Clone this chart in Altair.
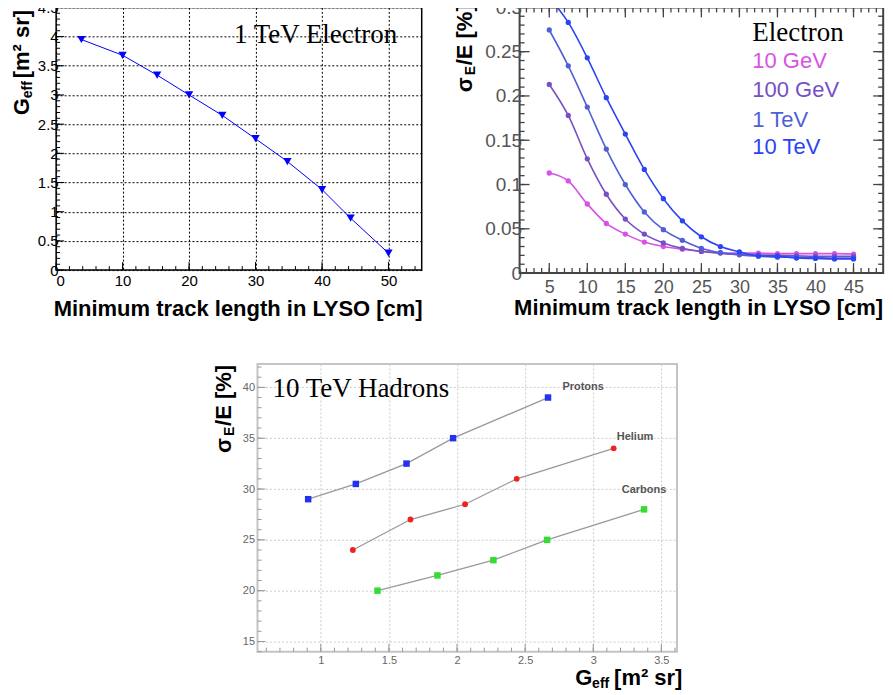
import altair as alt
import pandas as pd

SANS = "Liberation Sans"
SERIF = "Liberation Serif"

# ---------------- Panel 1: 1 TeV electron, Geff vs min track length
p1_len = [3.8, 10, 15.2, 20, 25, 30, 34.8, 40, 44.3, 50]
p1_geff = [3.95, 3.68, 3.34, 3.00, 2.65, 2.25, 1.86, 1.38, 0.89, 0.29]

# ---------------- Panel 2: electron energy resolution vs min track length
p2_len = [5, 7.5, 10, 12.5, 15, 17.5, 20, 22.5, 25, 27.5, 30, 32.5, 35, 37.5, 40, 42.5, 45]
res_10gev = [0.113, 0.104, 0.078, 0.056, 0.044, 0.035, 0.030, 0.027, 0.0245, 0.023,
             0.0225, 0.0225, 0.022, 0.022, 0.022, 0.022, 0.0215]
res_100gev = [0.213, 0.178, 0.129, 0.089, 0.061, 0.044, 0.034, 0.028, 0.0244, 0.0225,
              0.021, 0.0205, 0.020, 0.0195, 0.019, 0.019, 0.019]
res_1tev = [0.2745, 0.234, 0.1875, 0.140, 0.100, 0.069, 0.049, 0.037, 0.028, 0.023,
            0.0206, 0.019, 0.018, 0.018, 0.0175, 0.017, 0.017]
res_10tev = [0.311, 0.283, 0.243, 0.198, 0.157, 0.117, 0.084, 0.059, 0.041, 0.030,
             0.024, 0.0195, 0.019, 0.017, 0.0165, 0.016, 0.016]
energies = ["10 GeV", "100 GeV", "1 TeV", "10 TeV"]
energy_colors = ["#d852e6", "#7650c4", "#4f5fd6", "#2a44f5"]

# ---------------- Panel 3: 10 TeV hadrons, resolution vs Geff
geff_protons = [0.907, 1.257, 1.629, 1.971, 2.668]
res_protons = [29.0, 30.5, 32.5, 35.0, 39.0]
geff_helium = [1.235, 1.658, 2.059, 2.438, 3.15]
res_helium = [24.0, 27.0, 28.5, 31.0, 34.0]
geff_carbons = [1.416, 1.856, 2.267, 2.661, 3.373]
res_carbons = [20.0, 21.5, 23.0, 25.0, 28.0]
hadron_names = ["Protons", "Helium", "Carbons"]
hadron_colors = ["#2233ee", "#ee2222", "#33dd33"]

# ---------------- tick values
p1_xmajor = [0, 10, 20, 30, 40, 50]
p1_xminor = list(range(0, 55, 2))
p1_ymajor = [0, 0.5, 1, 1.5, 2, 2.5, 3, 3.5, 4, 4.5]
p1_yminor = [round(i * 0.1, 2) for i in range(46)]

p2_xmajor = [5, 10, 15, 20, 25, 30, 35, 40, 45]
p2_xminor = list(range(2, 49))
p2_ymajor = [0, 0.05, 0.1, 0.15, 0.2, 0.25, 0.3]
p2_yminor = [round(i * 0.01, 2) for i in range(31)]

p3_xmajor = [1, 1.5, 2, 2.5, 3, 3.5]
p3_xminor = [round(0.6 + i * 0.1, 2) for i in range(31)]
p3_ymajor = [15, 20, 25, 30, 35, 40]
p3_yminor = list(range(14, 43))

W1, H1 = 366, 263
W2, H2 = 364, 266
W3, H3 = 420, 288


def txt(s, x, y, size, color="black", font=SANS, weight="normal", angle=0,
        align="left", baseline="alphabetic"):
    return alt.Chart(pd.DataFrame({"t": [s]})).mark_text(
        align=align, baseline=baseline, fontSize=size, font=font,
        fontWeight=weight, color=color, angle=angle
    ).encode(text="t:N", x=alt.value(x), y=alt.value(y))


def ticks(values, side, length, W, H, color, width, xenc=None, yenc=None):
    df = pd.DataFrame({"v": values})
    m = alt.Chart(df).mark_rule(color=color, strokeWidth=width)
    if side in ("left", "right"):
        enc = dict(y=yenc("v:Q"))
        if side == "left":
            enc.update(x=alt.value(0), x2=alt.value(length))
        else:
            enc.update(x=alt.value(W), x2=alt.value(W - length))
    else:
        enc = dict(x=xenc("v:Q"))
        if side == "bottom":
            enc.update(y=alt.value(H), y2=alt.value(H - length))
        else:
            enc.update(y=alt.value(0), y2=alt.value(length))
    return m.encode(**enc)


# ======================= Panel 1 =======================
sx1 = alt.Scale(domain=[0, 55], nice=False, zero=False)
sy1 = alt.Scale(domain=[0, 4.5], nice=False, zero=False)
ax1 = alt.Axis(values=p1_xmajor, format="d", title=None, grid=True, gridColor="black",
               gridDash=[2, 2], gridWidth=1, ticks=False, domain=False, labelFont=SANS,
               labelFontSize=15, labelColor="black", labelPadding=3)
ay1 = alt.Axis(values=p1_ymajor, format=".1~f", title=None, grid=True, gridColor="black",
               gridDash=[2, 2], gridWidth=1, ticks=False, domain=False, labelFont=SANS,
               labelFontSize=15, labelColor="black", labelPadding=-2)
X1 = lambda f: alt.X(f, scale=sx1, axis=ax1)
Y1 = lambda f: alt.Y(f, scale=sy1, axis=ay1)

df1 = pd.DataFrame({"len": p1_len, "geff": p1_geff})
line1 = alt.Chart(df1).mark_line(color="#0000ff", strokeWidth=1).encode(
    x=X1("len:Q"), y=Y1("geff:Q"))
pts1 = alt.Chart(df1).mark_point(shape="triangle-down", filled=True, color="#0000ff",
                                 size=70, opacity=1).encode(x=X1("len:Q"), y=Y1("geff:Q"))

p1 = alt.layer(
    line1, pts1,
    ticks(p1_yminor, "left", 4, W1, H1, "black", 1, yenc=Y1),
    ticks(p1_ymajor, "left", 8, W1, H1, "black", 1, yenc=Y1),
    ticks(p1_xminor, "bottom", 4, W1, H1, "black", 1, xenc=X1),
    ticks(p1_xmajor, "bottom", 8, W1, H1, "black", 1, xenc=X1),
    txt("1 TeV Electron", 178, 36, 27, font=SERIF),
    txt("Minimum track length in LYSO [cm]", W1 + 1, 309, 22, weight="bold", align="right"),
    txt("G", -27, 108, 22, weight="bold", angle=270),
    txt("eff", -24, 91, 14, weight="bold", angle=270),
    txt("[m² sr]", -27, 71, 22, weight="bold", angle=270),
).properties(width=W1, height=H1,
             view=alt.ViewBackground(stroke="black", strokeWidth=1.5, fill="white"))

# ======================= Panel 2 =======================
sx2 = alt.Scale(domain=[1.1, 48.9], nice=False, zero=False)
sy2 = alt.Scale(domain=[0, 0.3], nice=False, zero=False)
ax2 = alt.Axis(values=p2_xmajor, format="d", title=None, grid=False, ticks=False,
               domain=False, labelFont=SANS, labelFontSize=18, labelColor="#555555",
               labelPadding=5)
ay2 = alt.Axis(values=p2_ymajor, format=".2~f", title=None, grid=False, ticks=False,
               domain=False, labelFont=SANS, labelFontSize=19, labelColor="#555555",
               labelPadding=-2)
X2 = lambda f: alt.X(f, scale=sx2, axis=ax2)
Y2 = lambda f: alt.Y(f, scale=sy2, axis=ay2)

rows2 = []
for name, vals in zip(energies, [res_10gev, res_100gev, res_1tev, res_10tev]):
    for xv, yv in zip(p2_len, vals):
        rows2.append({"len": xv, "res": yv, "E": name})
df2 = pd.DataFrame(rows2)
col2 = alt.Color("E:N", scale=alt.Scale(domain=energies, range=energy_colors), legend=None)
line2 = alt.Chart(df2).mark_line(strokeWidth=1.6, clip=True, interpolate="monotone").encode(
    x=X2("len:Q"), y=Y2("res:Q"), color=col2, detail="E:N")
pts2 = alt.Chart(df2).mark_circle(size=28, opacity=1, clip=True).encode(
    x=X2("len:Q"), y=Y2("res:Q"), color=col2)

tc2 = "#444444"
p2 = alt.layer(
    line2, pts2,
    ticks(p2_yminor, "left", 5, W2, H2, tc2, 1.3, yenc=Y2),
    ticks(p2_ymajor, "left", 10, W2, H2, tc2, 1.3, yenc=Y2),
    ticks(p2_yminor, "right", 5, W2, H2, tc2, 1.3, yenc=Y2),
    ticks(p2_ymajor, "right", 10, W2, H2, tc2, 1.3, yenc=Y2),
    ticks(p2_xminor, "bottom", 5, W2, H2, tc2, 1.3, xenc=X2),
    ticks(p2_xmajor, "bottom", 10, W2, H2, tc2, 1.3, xenc=X2),
    ticks(p2_xminor, "top", 5, W2, H2, tc2, 1.3, xenc=X2),
    ticks(p2_xmajor, "top", 10, W2, H2, tc2, 1.3, xenc=X2),
    txt("Electron", 233, 34, 27, font=SERIF),
    txt(energies[0], 233, 61, 22, color=energy_colors[0]),
    txt(energies[1], 233, 90, 22, color=energy_colors[1]),
    txt(energies[2], 233, 120, 22, color=energy_colors[2]),
    txt(energies[3], 233, 147, 22, color=energy_colors[3]),
    txt("Minimum track length in LYSO [cm]", W2, 308, 22, weight="bold", align="right"),
    txt("σ", -48, 85, 22, weight="bold", angle=270),
    txt("E", -45, 68, 14, weight="bold", angle=270),
    txt("/E [%]", -48, 58, 22, weight="bold", angle=270),
).properties(width=W2, height=H2,
             view=alt.ViewBackground(stroke="#444444", strokeWidth=2, fill="white"))

# ======================= Panel 3 =======================
sx3 = alt.Scale(domain=[0.535, 3.615], nice=False, zero=False)
sy3 = alt.Scale(domain=[14, 42.3], nice=False, zero=False)
ax3 = alt.Axis(values=p3_xmajor, format=".1~f", title=None, grid=True, gridColor="#cccccc",
               gridDash=[2, 2], gridWidth=1, ticks=False, domain=False, labelFont=SANS,
               labelFontSize=11, labelColor="#666666", labelPadding=3)
ay3 = alt.Axis(values=p3_ymajor, format="d", title=None, grid=True, gridColor="#cccccc",
               gridDash=[2, 2], gridWidth=1, ticks=False, domain=False, labelFont=SANS,
               labelFontSize=11, labelColor="#666666", labelPadding=3)
X3 = lambda f: alt.X(f, scale=sx3, axis=ax3)
Y3 = lambda f: alt.Y(f, scale=sy3, axis=ay3)

rows3 = []
for name, gx, ry in zip(hadron_names, [geff_protons, geff_helium, geff_carbons],
                        [res_protons, res_helium, res_carbons]):
    for xv, yv in zip(gx, ry):
        rows3.append({"geff": xv, "res": yv, "H": name})
df3 = pd.DataFrame(rows3)
col3 = alt.Color("H:N", scale=alt.Scale(domain=hadron_names, range=hadron_colors), legend=None)
line3 = alt.Chart(df3).mark_line(color="#999999", strokeWidth=1.3).encode(
    x=X3("geff:Q"), y=Y3("res:Q"), detail="H:N")
sq3 = alt.Chart(df3).transform_filter(alt.datum.H != "Helium").mark_square(
    size=42, opacity=1).encode(x=X3("geff:Q"), y=Y3("res:Q"), color=col3)
ci3 = alt.Chart(df3).transform_filter(alt.datum.H == "Helium").mark_circle(
    size=34, opacity=1).encode(x=X3("geff:Q"), y=Y3("res:Q"), color=col3)

tc3 = "#999999"
p3 = alt.layer(
    line3, sq3, ci3,
    ticks(p3_yminor, "left", 4, W3, H3, tc3, 1, yenc=Y3),
    ticks(p3_ymajor, "left", 8, W3, H3, tc3, 1, yenc=Y3),
    ticks(p3_xminor, "bottom", 4, W3, H3, tc3, 1, xenc=X3),
    ticks(p3_xmajor, "bottom", 8, W3, H3, tc3, 1, xenc=X3),
    txt("10 TeV Hadrons", 15, 33, 27, font=SERIF),
    txt(hadron_names[0], 326, 23, 11, color="#555555", weight="bold", align="center",
        baseline="middle"),
    txt(hadron_names[1], 378, 73, 11, color="#555555", weight="bold", align="center",
        baseline="middle"),
    txt(hadron_names[2], 387, 126, 11, color="#555555", weight="bold", align="center",
        baseline="middle"),
    txt("σ", -27, 89, 22, weight="bold", angle=270),
    txt("E", -24, 72, 14, weight="bold", angle=270),
    txt("/E [%]", -27, 62, 22, weight="bold", angle=270),
    txt("G", 318, 321, 22, weight="bold"),
    txt("eff", 335, 324, 14, weight="bold"),
    txt("[m² sr]", 357, 321, 22, weight="bold"),
).properties(width=W3, height=H3,
             view=alt.ViewBackground(stroke="#c4c4c4", strokeWidth=2, fill="white"))

top = alt.hconcat(p1, p2, spacing=98, bounds="flush")
chart = alt.vconcat(top, p3, spacing=42, center=True,
                    padding={"left": 2, "top": -11, "right": 0, "bottom": 0}
                    ).resolve_scale(color="independent").configure(background="white")

chart.save("out.html", embed_options={"renderer": "svg", "actions": False})
